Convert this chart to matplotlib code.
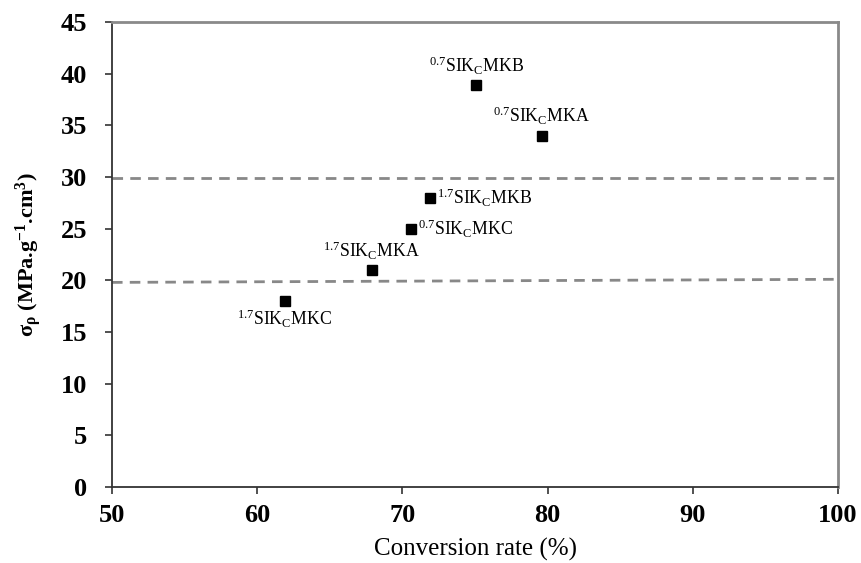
import matplotlib
matplotlib.use("Agg")
import matplotlib.pyplot as plt

plt.rcParams['font.family'] = ['Liberation Serif', 'DejaVu Serif']
plt.rcParams['mathtext.fontset'] = 'custom'
plt.rcParams['mathtext.rm'] = 'Liberation Serif'
plt.rcParams['mathtext.it'] = 'Liberation Serif:italic'
plt.rcParams['mathtext.bf'] = 'Liberation Serif:bold'

# data
samples = ['0.7MKB', '0.7MKA', '1.7MKB', '0.7MKC', '1.7MKA', '1.7MKC']
conversion = [75.1, 79.6, 71.9, 70.6, 67.9, 61.9]
sigma = [38.9, 34.0, 28.0, 25.0, 21.0, 18.0]
labels = [r'$^{0.7}$SIK$_{\mathrm{C}}$MKB', r'$^{0.7}$SIK$_{\mathrm{C}}$MKA',
          r'$^{1.7}$SIK$_{\mathrm{C}}$MKB', r'$^{0.7}$SIK$_{\mathrm{C}}$MKC',
          r'$^{1.7}$SIK$_{\mathrm{C}}$MKA', r'$^{1.7}$SIK$_{\mathrm{C}}$MKC']
label_pos = ['above', 'above', 'right', 'right', 'above', 'below']

upper_x = [50, 100]
upper_y = [29.95, 29.95]
lower_x = [50, 100]
lower_y = [19.8, 20.1]

xticks = [50, 60, 70, 80, 90, 100]
yticks = [0, 5, 10, 15, 20, 25, 30, 35, 40, 45]

fig = plt.figure(figsize=(8.61, 5.63), dpi=100)
ax = fig.add_axes([112/861, 76/563, (838-112)/861, (487-22)/563])

dash = (0, (3.8, 2.6))
ax.plot(upper_x, upper_y, color='#888888', lw=2, linestyle=dash, zorder=1)
ax.plot(lower_x, lower_y, color='#888888', lw=2, linestyle=dash, zorder=1)

ax.plot(conversion, sigma, linestyle='none', marker='s', markersize=7.5,
        color='black', zorder=3)

fs = 12.8
for x, y, lab, pos in zip(conversion, sigma, labels, label_pos):
    if pos == 'above':
        ax.annotate(lab, (x, y), xytext=(0, 6), textcoords='offset points',
                    ha='center', va='bottom', fontsize=fs)
    elif pos == 'below':
        ax.annotate(lab, (x, y), xytext=(0, -5), textcoords='offset points',
                    ha='center', va='top', fontsize=fs)
    else:
        ax.annotate(lab, (x, y), xytext=(5, 0), textcoords='offset points',
                    ha='left', va='center', fontsize=fs)

ax.set_xlim(50, 100)
ax.set_ylim(0, 45)
ax.set_xticks(xticks)
ax.set_yticks(yticks)
ax.tick_params(axis='both', direction='out', length=5, width=1.2,
               color='#333333', labelsize=19)
ax.tick_params(axis='x', pad=7)
ax.tick_params(axis='y', pad=13)
for lab in ax.get_xticklabels() + ax.get_yticklabels():
    lab.set_fontweight('bold')

ax.spines['left'].set_color('#333333')
ax.spines['bottom'].set_color('#333333')
ax.spines['left'].set_linewidth(1.3)
ax.spines['bottom'].set_linewidth(1.3)
ax.spines['top'].set_color('#8a8a8a')
ax.spines['right'].set_color('#8a8a8a')
ax.spines['top'].set_linewidth(2)
ax.spines['right'].set_linewidth(2)

ax.set_xlabel('Conversion rate (%)', fontsize=18, labelpad=8)
ax.set_ylabel(r'σ$_{\mathbf{ρ}}$ (MPa.g$^{\mathbf{-1}}$.cm$^{\mathbf{3}}$)',
              fontsize=16, fontweight='bold', labelpad=12)

fig.savefig('out.png', dpi=100)
